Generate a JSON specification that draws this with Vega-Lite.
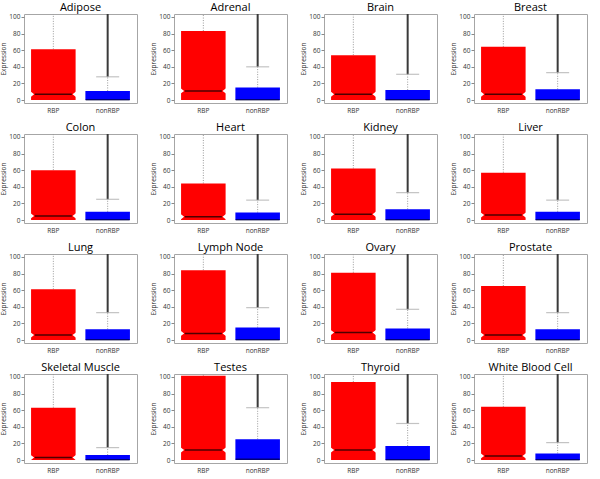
{
  "$schema": "https://vega.github.io/schema/vega-lite/v6.json",
  "padding": {"left": 0, "top": 1, "right": 0, "bottom": 0},
  "bounds": "flush",
  "spacing": {"row": 31, "column": 37},
  "columns": 4,
  "config": {
    "font": "Open Sans",
    "view": {"stroke": "#a6a6a6", "strokeWidth": 1},
    "axis": {"grid": false, "domain": false, "labelFontSize": 6.5, "titleFontSize": 6.5, "titleFontWeight": "normal", "labelColor": "#333", "titleColor": "#333", "tickColor": "#888", "tickSize": 3, "labelOverlap": false},
    "axisY": {"labelOverlap": false},
    "axisQuantitative": {"labelOverlap": false}
  },
  "data": {"values": [
    {"tissue": "Adipose", "group": "RBP", "q1": 0, "median": 7, "q3": 61, "whiskerTop": 105, "cap": null, "outlierMax": null},
    {"tissue": "Adipose", "group": "nonRBP", "q1": 0, "median": 0.5, "q3": 11, "whiskerTop": 28, "cap": 28, "outlierMax": 105},
    {"tissue": "Adrenal", "group": "RBP", "q1": 0, "median": 11, "q3": 83, "whiskerTop": 105, "cap": null, "outlierMax": null},
    {"tissue": "Adrenal", "group": "nonRBP", "q1": 0, "median": 0.5, "q3": 15, "whiskerTop": 40, "cap": 40, "outlierMax": 105},
    {"tissue": "Brain", "group": "RBP", "q1": 0, "median": 7, "q3": 54, "whiskerTop": 105, "cap": null, "outlierMax": null},
    {"tissue": "Brain", "group": "nonRBP", "q1": 0, "median": 0.5, "q3": 12, "whiskerTop": 31, "cap": 31, "outlierMax": 105},
    {"tissue": "Breast", "group": "RBP", "q1": 0, "median": 7, "q3": 64, "whiskerTop": 105, "cap": null, "outlierMax": null},
    {"tissue": "Breast", "group": "nonRBP", "q1": 0, "median": 0.5, "q3": 13, "whiskerTop": 33, "cap": 33, "outlierMax": 105},
    {"tissue": "Colon", "group": "RBP", "q1": 0, "median": 5, "q3": 60, "whiskerTop": 105, "cap": null, "outlierMax": null},
    {"tissue": "Colon", "group": "nonRBP", "q1": 0, "median": 0.5, "q3": 10, "whiskerTop": 25, "cap": 25, "outlierMax": 105},
    {"tissue": "Heart", "group": "RBP", "q1": 0, "median": 4, "q3": 44, "whiskerTop": 105, "cap": null, "outlierMax": null},
    {"tissue": "Heart", "group": "nonRBP", "q1": 0, "median": 0.5, "q3": 9, "whiskerTop": 24, "cap": 24, "outlierMax": 105},
    {"tissue": "Kidney", "group": "RBP", "q1": 0, "median": 7, "q3": 62, "whiskerTop": 105, "cap": null, "outlierMax": null},
    {"tissue": "Kidney", "group": "nonRBP", "q1": 0, "median": 0.5, "q3": 13, "whiskerTop": 33, "cap": 33, "outlierMax": 105},
    {"tissue": "Liver", "group": "RBP", "q1": 0, "median": 6, "q3": 57, "whiskerTop": 105, "cap": null, "outlierMax": null},
    {"tissue": "Liver", "group": "nonRBP", "q1": 0, "median": 0.5, "q3": 10, "whiskerTop": 24, "cap": 24, "outlierMax": 105},
    {"tissue": "Lung", "group": "RBP", "q1": 0, "median": 6, "q3": 61, "whiskerTop": 105, "cap": null, "outlierMax": null},
    {"tissue": "Lung", "group": "nonRBP", "q1": 0, "median": 0.5, "q3": 13, "whiskerTop": 33, "cap": 33, "outlierMax": 105},
    {"tissue": "Lymph Node", "group": "RBP", "q1": 0, "median": 8, "q3": 84, "whiskerTop": 105, "cap": null, "outlierMax": null},
    {"tissue": "Lymph Node", "group": "nonRBP", "q1": 0, "median": 0.5, "q3": 15, "whiskerTop": 39, "cap": 39, "outlierMax": 105},
    {"tissue": "Ovary", "group": "RBP", "q1": 0, "median": 9, "q3": 81, "whiskerTop": 105, "cap": null, "outlierMax": null},
    {"tissue": "Ovary", "group": "nonRBP", "q1": 0, "median": 0.5, "q3": 14, "whiskerTop": 37, "cap": 37, "outlierMax": 105},
    {"tissue": "Prostate", "group": "RBP", "q1": 0, "median": 6, "q3": 65, "whiskerTop": 105, "cap": null, "outlierMax": null},
    {"tissue": "Prostate", "group": "nonRBP", "q1": 0, "median": 0.5, "q3": 13, "whiskerTop": 33, "cap": 33, "outlierMax": 105},
    {"tissue": "Skeletal Muscle", "group": "RBP", "q1": 0, "median": 3, "q3": 63, "whiskerTop": 105, "cap": null, "outlierMax": null},
    {"tissue": "Skeletal Muscle", "group": "nonRBP", "q1": 0, "median": 0.5, "q3": 6, "whiskerTop": 15, "cap": 15, "outlierMax": 105},
    {"tissue": "Testes", "group": "RBP", "q1": 0, "median": 12, "q3": 101.5, "whiskerTop": 105, "cap": null, "outlierMax": null},
    {"tissue": "Testes", "group": "nonRBP", "q1": 0, "median": 1, "q3": 25, "whiskerTop": 63, "cap": 63, "outlierMax": 105},
    {"tissue": "Thyroid", "group": "RBP", "q1": 0, "median": 12, "q3": 94, "whiskerTop": 105, "cap": null, "outlierMax": null},
    {"tissue": "Thyroid", "group": "nonRBP", "q1": 0, "median": 0.5, "q3": 17, "whiskerTop": 44, "cap": 44, "outlierMax": 105},
    {"tissue": "White Blood Cell", "group": "RBP", "q1": 0, "median": 5, "q3": 64, "whiskerTop": 105, "cap": null, "outlierMax": null},
    {"tissue": "White Blood Cell", "group": "nonRBP", "q1": 0, "median": 0.5, "q3": 8, "whiskerTop": 21, "cap": 21, "outlierMax": 105}
  ]},
  "facet": {
    "field": "tissue", "type": "nominal",
    "sort": ["Adipose", "Adrenal", "Brain", "Breast", "Colon", "Heart", "Kidney", "Liver", "Lung", "Lymph Node", "Ovary", "Prostate", "Skeletal Muscle", "Testes", "Thyroid", "White Blood Cell"],
    "header": {"title": null, "labelFontSize": 11, "labelColor": "#000", "labelPadding": 1, "labelFont": "Open Sans"}
  },
  "resolve": {"axis": {"x": "independent", "y": "independent"}},
  "spec": {
    "width": 113,
    "height": 89,
    "encoding": {
      "x": {"field": "group", "type": "nominal", "sort": ["RBP", "nonRBP"], "title": null,
        "scale": {"paddingInner": 0.18, "paddingOuter": 0.13},
        "axis": {"labelAngle": 0, "ticks": false, "labelPadding": 4}},
      "y": {"type": "quantitative", "title": "Expression",
        "scale": {"domain": [-3.5, 103.5], "nice": false, "zero": false},
        "axis": {"values": [0, 20, 40, 60, 80, 100], "labelOverlap": false, "titlePadding": 2, "labelPadding": 1}}
    },
    "layer": [
      {
        "mark": {"type": "rule", "color": "#999", "strokeDash": [1, 1.5], "strokeWidth": 1, "clip": true},
        "encoding": {
          "y": {"field": "q3", "type": "quantitative"},
          "y2": {"field": "whiskerTop"}
        }
      },
      {
        "transform": [{"filter": "datum.outlierMax != null"}],
        "mark": {"type": "rule", "color": "#3a3a3a", "strokeWidth": 2, "clip": true},
        "encoding": {
          "y": {"field": "cap", "type": "quantitative"},
          "y2": {"field": "outlierMax"}
        }
      },
      {
        "transform": [{"filter": "datum.cap != null"}],
        "mark": {"type": "tick", "color": "#aaa", "thickness": 1.2, "size": 23, "clip": true},
        "encoding": {
          "y": {"field": "cap", "type": "quantitative"}
        }
      },
      {
        "mark": {"type": "bar", "width": {"band": 1}, "clip": true},
        "encoding": {
          "y": {"field": "q1", "type": "quantitative"},
          "y2": {"field": "q3"},
          "color": {"field": "group", "type": "nominal", "legend": null,
            "scale": {"domain": ["RBP", "nonRBP"], "range": ["#ff0000", "#0000ff"]}}
        }
      },
      {
        "transform": [{"filter": "datum.group == 'RBP'"}],
        "mark": {"type": "point", "filled": true, "color": "#ffffff", "opacity": 1, "size": 1990, "strokeWidth": 0,
          "shape": "M -1.03,-0.13 L -0.86,0 L -1.03,0.13 Z M 1.03,-0.13 L 0.86,0 L 1.03,0.13 Z"},
        "encoding": {
          "y": {"field": "median", "type": "quantitative"}
        }
      },
      {
        "transform": [{"filter": "datum.group == 'RBP'"}],
        "mark": {"type": "tick", "thickness": 1.5, "size": 37, "color": "#000000", "clip": true},
        "encoding": {
          "y": {"field": "median", "type": "quantitative"}
        }
      },
      {
        "transform": [{"filter": "datum.group == 'nonRBP'"}],
        "mark": {"type": "tick", "thickness": 1.5, "size": 44, "color": "#00003a", "clip": true},
        "encoding": {
          "y": {"field": "median", "type": "quantitative"}
        }
      }
    ]
  }
}
